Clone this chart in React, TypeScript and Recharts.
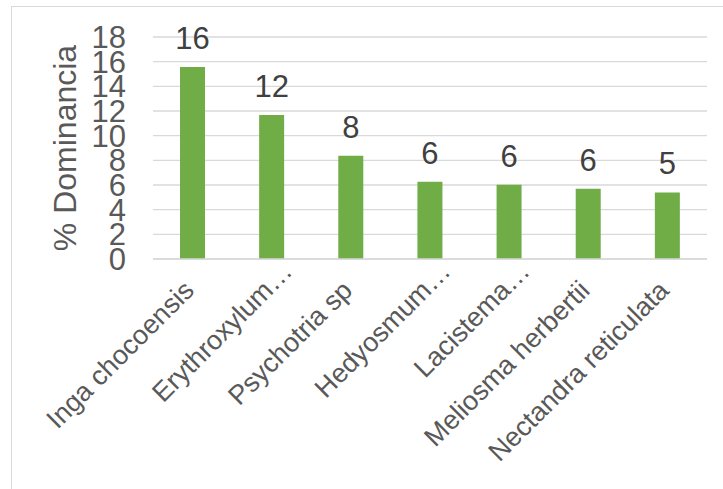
import React from 'react';
import { BarChart, Bar, XAxis, YAxis, CartesianGrid, LabelList } from 'recharts';

const species = [
    'Inga chocoensis',
    'Erythroxylum…',
    'Psychotria sp',
    'Hedyosmum…',
    'Lacistema…',
    'Meliosma herbertii',
    'Nectandra reticulata',
];
const dominance = [15.56, 11.67, 8.38, 6.27, 6.02, 5.7, 5.4];
const yTicks = [0, 2, 4, 6, 8, 10, 12, 14, 16, 18];

const data = species.map((name, i) => ({ name, value: dominance[i] }));

const FONT = "'Liberation Sans', Arial, sans-serif";
const AXIS_GREY = '#595959';
const GRID_GREY = '#d9d9d9';

// rotated category names; a trailing ellipsis hangs past the anchor point
const SpeciesTick = (props: any) => {
    const { x, y, payload } = props;
    const ax = x + 3;
    const label: string = payload.value;
    const cut = label.endsWith('…');
    const text = cut ? label.slice(0, -1) : label;
    const common = {
        fill: AXIS_GREY,
        fontSize: 27,
        fontFamily: FONT,
        transform: `rotate(-45, ${ax}, ${y})`,
    };
    return (
        <g>
            <text x={ax} y={y} textAnchor="end" {...common}>
                {text}
            </text>
            {cut && (
                <text x={ax} y={y} textAnchor="start" {...common}>
                    …
                </text>
            )}
        </g>
    );
};

const AxisTitle = (props: any) => {
    const { viewBox } = props;
    const cx = viewBox.x + 65;
    const cy = viewBox.y + viewBox.height / 2;
    return (
        <text
            x={cx}
            y={cy}
            transform={`rotate(-90, ${cx}, ${cy})`}
            textAnchor="middle"
            dominantBaseline="central"
            fill={AXIS_GREY}
            fontSize={32}
            fontFamily={FONT}
        >
            % Dominancia
        </text>
    );
};

const App: React.FC = () => {
    return (
        <div style={{ position: 'absolute', left: 0, top: 0, width: 723, height: 489, overflow: 'hidden', background: '#fff' }}>
            {/* chart frame, runs off the right and bottom edges */}
            <div
                style={{
                    position: 'absolute',
                    left: 11,
                    top: 6,
                    width: 900,
                    height: 700,
                    borderLeft: `1px solid ${GRID_GREY}`,
                    borderTop: `1px solid ${GRID_GREY}`,
                }}
            />
            <div style={{ position: 'absolute', left: 0, top: 0 }}>
                <BarChart width={723} height={489} data={data} margin={{ top: 37, right: 16, left: 0, bottom: 80 }}>
                    <CartesianGrid vertical={false} stroke={GRID_GREY} strokeWidth={1.3} />
                    <XAxis
                        dataKey="name"
                        height={150}
                        interval={0}
                        axisLine={{ stroke: GRID_GREY, strokeWidth: 1.3 }}
                        tickLine={false}
                        tickSize={0}
                        tickMargin={33}
                        tick={<SpeciesTick />}
                    />
                    <YAxis
                        width={153}
                        domain={[0, 18]}
                        ticks={yTicks}
                        interval={0}
                        axisLine={false}
                        tickLine={false}
                        tickSize={0}
                        tickMargin={27}
                        tick={{ fill: AXIS_GREY, fontSize: 31, fontFamily: FONT }}
                        label={{ position: 'center', content: <AxisTitle /> }}
                    />
                    <Bar dataKey="value" fill="#70ad47" barSize={25} isAnimationActive={false}>
                        <LabelList
                            dataKey="value"
                            position="top"
                            offset={18}
                            formatter={(v: any) => Math.round(Number(v))}
                            fill="#404040"
                            fontSize={31}
                            fontFamily={FONT}
                        />
                    </Bar>
                </BarChart>
            </div>
        </div>
    );
};

export default App;
